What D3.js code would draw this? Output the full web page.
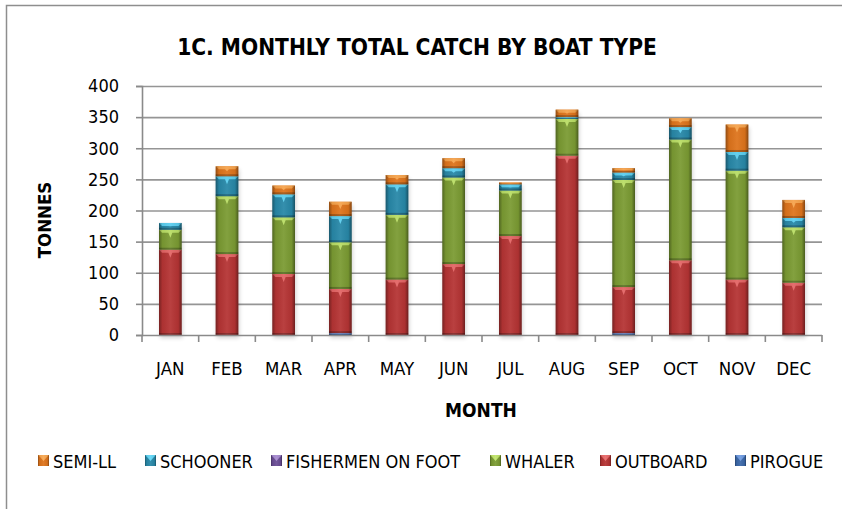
<!DOCTYPE html>
<html>
<head>
<meta charset="utf-8">
<script src="https://cdn.jsdelivr.net/npm/d3@7"></script>
<style>
  body { margin: 0; background: #fff; }
  svg { display: block; }
  text { font-family: "Liberation Sans Narrow", "DejaVu Sans Condensed", sans-serif; fill: #000; }
  .title, .axis-title { font-weight: bold; }
</style>
</head>
<body>
<svg class="chart" width="842" height="509"></svg>
<script>
// data
const months = ["JAN", "FEB", "MAR", "APR", "MAY", "JUN", "JUL", "AUG", "SEP", "OCT", "NOV", "DEC"];
const pirogue = [0, 0, 0, 3, 0, 0, 0, 0, 3, 0, 0, 0];
const outboard = [137, 130, 98, 71, 89, 114, 159, 288, 74, 120, 89, 84];
const whaler = [32, 93, 91, 75, 104, 139, 73, 59, 172, 194, 175, 89];
const fishermenOnFoot = [0, 0, 0, 0, 0, 0, 0, 0, 0, 0, 0, 0];
const schooner = [11, 32, 37, 42, 49, 15, 10, 3, 12, 20, 30, 15];
const semiLL = [0, 16, 14, 23, 15, 16, 3, 12, 7, 14, 44, 29];
const yTicks = [0, 50, 100, 150, 200, 250, 300, 350, 400];

// stacking order, bottom to top (legend lists it reversed)
const series = [
	{ key: "PIROGUE", values: pirogue, color: "#3b68a9", light: "#6f9be0" },
	{ key: "OUTBOARD", values: outboard, color: "#b53434", light: "#e86a6a" },
	{ key: "WHALER", values: whaler, color: "#7b9b33", light: "#c0e46a" },
	{ key: "FISHERMEN ON FOOT", values: fishermenOnFoot, color: "#6a4d95", light: "#a68ad0" },
	{ key: "SCHOONER", values: schooner, color: "#2888a8", light: "#62d6f6" },
	{ key: "SEMI-LL", values: semiLL, color: "#de741c", light: "#f8a852" },
];

const table = months.map((m, i) => {
	const row = { month: m };
	series.forEach((s) => (row[s.key] = s.values[i]));
	return row;
});

const svg = d3.select("svg.chart");

//* outer frame (runs off the right and bottom edges)
svg.append("rect")
	.attr("x", 6.5).attr("y", 5.5)
	.attr("width", 900).attr("height", 600)
	.attr("fill", "none")
	.attr("stroke", "#8e8e8e")
	.attr("stroke-width", 1.5);

const plot = { left: 142, right: 822, top: 86, bottom: 335 };

const x = d3.scaleBand()
	.domain(months)
	.range([plot.left, plot.right])
	.paddingInner(0.6)
	.paddingOuter(0.3);

const y = d3.scaleLinear().domain([0, 400]).range([plot.bottom, plot.top]);

//* gradients: darker at the bar edges
const defs = svg.append("defs");
const edge = defs.append("linearGradient").attr("id", "edge").attr("x1", 0).attr("x2", 1);
edge.append("stop").attr("offset", 0).attr("stop-color", "#000").attr("stop-opacity", 0.35);
edge.append("stop").attr("offset", 0.15).attr("stop-color", "#000").attr("stop-opacity", 0.05);
edge.append("stop").attr("offset", 0.5).attr("stop-color", "#fff").attr("stop-opacity", 0.06);
edge.append("stop").attr("offset", 0.85).attr("stop-color", "#000").attr("stop-opacity", 0.05);
edge.append("stop").attr("offset", 1).attr("stop-color", "#000").attr("stop-opacity", 0.4);

const shadow = defs.append("filter").attr("id", "shadow").attr("x", -0.3).attr("y", -0.1).attr("width", 1.6).attr("height", 1.3);
shadow.append("feGaussianBlur").attr("stdDeviation", 2);

//* grid lines
svg.append("g")
	.selectAll("line")
	.data(yTicks.filter((d) => d > 0))
	.enter()
	.append("line")
	.attr("x1", plot.left)
	.attr("x2", plot.right)
	.attr("y1", (d) => y(d) + 0.5)
	.attr("y2", (d) => y(d) + 0.5)
	.attr("stroke", "#959595")
	.attr("stroke-width", 1.6);

//* y axis
const yAxis = svg.append("g")
	.attr("transform", `translate(${plot.left},0)`)
	.call(d3.axisLeft(y).tickValues(yTicks).tickSize(6).tickPadding(17));
yAxis.selectAll("path, line").attr("stroke", "#8a8a8a").attr("stroke-width", 1.6);
yAxis.selectAll("text").attr("font-size", 18).attr("font-family", null);

//* stacked bars
const stack = d3.stack().keys(series.map((s) => s.key));
const layers = stack(table);

// soft shadow behind each column
svg.append("g")
	.selectAll("rect")
	.data(table)
	.enter()
	.append("rect")
	.attr("x", (d) => x(d.month) + 1)
	.attr("y", (d) => y(d3.sum(series, (s) => d[s.key])) + 3)
	.attr("width", x.bandwidth())
	.attr("height", (d) => y(0) - y(d3.sum(series, (s) => d[s.key])))
	.attr("fill", "#000")
	.attr("opacity", 0.18)
	.attr("filter", "url(#shadow)");

const layerGroups = svg.append("g")
	.selectAll("g")
	.data(layers)
	.enter()
	.append("g");

const segs = layerGroups
	.selectAll("g")
	.data((L, li) => L.map((d) => ({ d, s: series[li] })).filter((o) => o.d[1] - o.d[0] > 0))
	.enter()
	.append("g");

segs.append("rect")
	.attr("x", (o) => x(o.d.data.month))
	.attr("y", (o) => y(o.d[1]))
	.attr("width", x.bandwidth())
	.attr("height", (o) => y(o.d[0]) - y(o.d[1]))
	.attr("fill", (o) => o.s.color);

// bevel highlight on top of each segment
segs.append("path")
	.attr("d", (o) => {
		const x0 = x(o.d.data.month), x1 = x0 + x.bandwidth();
		const top = y(o.d[1]);
		const h = y(o.d[0]) - top;
		const b = Math.min(3, h / 2), t = Math.min(8, h / 2);
		const cx = (x0 + x1) / 2;
		return `M${x0},${top}L${x1},${top}L${x1 - b},${top + b}L${cx + 2},${top + b}L${cx},${top + t}L${cx - 2},${top + b}L${x0 + b},${top + b}Z`;
	})
	.attr("fill", (o) => o.s.light)
	.attr("opacity", 0.9);

// darker base line of each segment
segs.append("rect")
	.attr("x", (o) => x(o.d.data.month))
	.attr("y", (o) => y(o.d[0]) - Math.min(2, (y(o.d[0]) - y(o.d[1])) / 3))
	.attr("width", x.bandwidth())
	.attr("height", (o) => Math.min(2, (y(o.d[0]) - y(o.d[1])) / 3))
	.attr("fill", "#000")
	.attr("opacity", 0.25);

segs.append("rect")
	.attr("x", (o) => x(o.d.data.month))
	.attr("y", (o) => y(o.d[1]))
	.attr("width", x.bandwidth())
	.attr("height", (o) => y(o.d[0]) - y(o.d[1]))
	.attr("fill", "url(#edge)");

//* x axis (ticks at category boundaries)
const xAxisG = svg.append("g");
xAxisG.append("line")
	.attr("x1", plot.left).attr("x2", plot.right)
	.attr("y1", y(0) + 0.5).attr("y2", y(0) + 0.5)
	.attr("stroke", "#8a8a8a").attr("stroke-width", 1.6);
xAxisG.selectAll("line.tick")
	.data(d3.range(months.length + 1))
	.enter()
	.append("line")
	.attr("class", "tick")
	.attr("x1", (i) => plot.left + i * x.step())
	.attr("x2", (i) => plot.left + i * x.step())
	.attr("y1", y(0))
	.attr("y2", y(0) + 7)
	.attr("stroke", "#8a8a8a").attr("stroke-width", 1.6);
xAxisG.selectAll("text")
	.data(months)
	.enter()
	.append("text")
	.attr("x", (d) => x(d) + x.bandwidth() / 2)
	.attr("y", 375)
	.attr("text-anchor", "middle")
	.attr("font-size", 18.5)
	.text((d) => d);

//* titles
svg.append("text")
	.attr("class", "title")
	.attr("x", 417)
	.attr("y", 55)
	.attr("text-anchor", "middle")
	.attr("font-size", 22.5)
	.text("1C. MONTHLY TOTAL CATCH BY BOAT TYPE");

svg.append("text")
	.attr("class", "axis-title")
	.attr("transform", "translate(51,220) rotate(-90)")
	.attr("text-anchor", "middle")
	.attr("font-size", 18.5)
	.text("TONNES");

svg.append("text")
	.attr("class", "axis-title")
	.attr("x", 481)
	.attr("y", 417)
	.attr("text-anchor", "middle")
	.attr("font-size", 19)
	.text("MONTH");

//* legend
const legendX = [38, 145, 271, 490, 600, 735];
const legendItems = series.slice().reverse();
const legend = svg.append("g")
	.selectAll("g")
	.data(legendItems)
	.enter()
	.append("g")
	.attr("transform", (_, i) => `translate(${legendX[i]}, 455)`);

legend.append("rect")
	.attr("width", 11).attr("height", 11)
	.attr("fill", (d) => d.color);
legend.append("path")
	.attr("d", "M0,0L11,0L8.5,2.5L5.5,6L2.5,2.5Z")
	.attr("fill", (d) => d.light);
legend.append("rect")
	.attr("width", 11).attr("height", 11)
	.attr("fill", "url(#edge)");
legend.append("text")
	.attr("x", 15)
	.attr("y", 12.5)
	.attr("font-size", 18)
	.text((d) => d.key);
</script>
</body>
</html>
